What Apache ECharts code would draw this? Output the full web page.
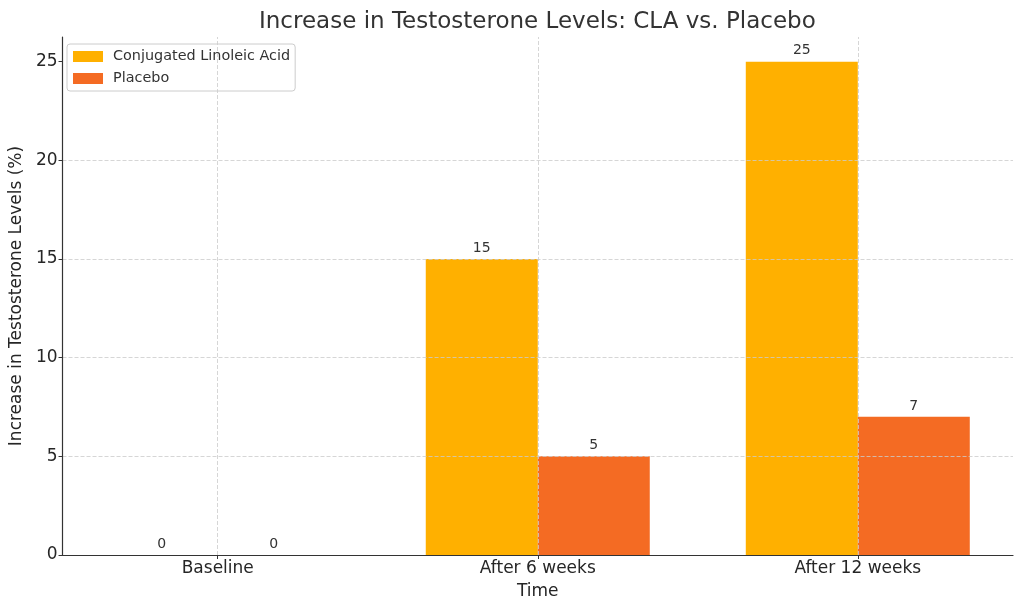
<!DOCTYPE html>
<html>
<head>
<meta charset="utf-8">
<script src="https://cdn.jsdelivr.net/npm/echarts@6/dist/echarts.min.js"></script>
<style>html,body{margin:0;padding:0;background:#fff;}#c{width:1023px;height:610px;}</style>
</head>
<body>
<div id="c"></div>
<script>
const categories = ['Baseline', 'After 6 weeks', 'After 12 weeks'];
const claValues = [0, 15, 25];
const placeboValues = [0, 5, 7];
const yTicks = [0, 5, 10, 15, 20, 25];

const FONT = 'DejaVu Sans';
const TXT = '#262626';
const chart = echarts.init(document.getElementById('c'));
const xPos = categories.map((c, i) => i);
const GRID = { color: '#cccccc', type: [4, 2], width: 0.8 };

chart.setOption({
  animation: false,
  backgroundColor: '#ffffff',
  title: {
    text: 'Increase in Testosterone Levels: CLA vs. Placebo',
    left: 254, top: 6,
    textStyle: { fontFamily: FONT, fontSize: 23, fontWeight: 'normal', color: '#333333' }
  },
  legend: {
    orient: 'vertical', left: 67, top: 44,
    itemWidth: 30, itemHeight: 11, itemGap: 7,
    padding: [5, 5, 5, 6],
    borderColor: '#cccccc', borderWidth: 1, borderRadius: 3,
    backgroundColor: '#ffffff',
    icon: 'rect',
    textStyle: { fontFamily: FONT, fontSize: 14.4, color: '#333333', lineHeight: 15, padding: [0, 0, 0, 5] },
    data: ['Conjugated Linoleic Acid', 'Placebo']
  },
  grid: { left: 58, right: 10, top: 37, bottom: 55, containLabel: false },
  xAxis: {
    type: 'value', min: -0.485, max: 2.485, z: 3,
    name: 'Time', nameLocation: 'middle', nameGap: 28,
    nameTextStyle: { fontFamily: FONT, fontSize: 17, color: TXT },
    axisLine: { show: true, onZero: false, lineStyle: { color: '#333', width: 1.2 } },
    axisTick: { show: true, length: 4, customValues: xPos, lineStyle: { color: '#333' } },
    axisLabel: {
      customValues: xPos, margin: 5,
      fontFamily: FONT, fontSize: 17, color: TXT,
      formatter: v => categories[Math.round(v)]
    },
    splitLine: { show: false }
  },
  yAxis: {
    type: 'value', min: 0, max: 26.25, z: 3,
    name: 'Increase in Testosterone Levels (%)', nameLocation: 'middle', nameGap: 35,
    nameTextStyle: { fontFamily: FONT, fontSize: 17, color: TXT },
    axisLine: { show: true, onZero: false, lineStyle: { color: '#333', width: 1.2 } },
    axisTick: { show: true, length: 4, customValues: yTicks, lineStyle: { color: '#333' } },
    axisLabel: { customValues: yTicks, margin: 5, fontFamily: FONT, fontSize: 17, color: TXT },
    splitLine: { show: true, customValues: yTicks, showMaxLine: false, showMinLine: false, lineStyle: GRID }
  },
  series: [
    {
      name: 'Conjugated Linoleic Acid', type: 'bar',
      data: claValues.map((v, i) => [i, v]),
      barWidth: 112, barGap: '0%',
      itemStyle: { color: '#FFB000' },
      label: { show: true, position: 'top', distance: 4, fontFamily: FONT, fontSize: 14, color: '#333333' }
    },
    {
      name: 'Placebo', type: 'bar',
      data: placeboValues.map((v, i) => [i, v]),
      barWidth: 112, barGap: '0%',
      itemStyle: { color: '#F46B23' },
      label: { show: true, position: 'top', distance: 4, fontFamily: FONT, fontSize: 14, color: '#333333' }
    },
    {
      name: 'vgrid', type: 'line', data: [], z: 5, silent: true,
      markLine: {
        silent: true, symbol: 'none', z: 5, animation: false,
        label: { show: false },
        lineStyle: GRID,
        data: xPos.map(x => ({ xAxis: x }))
      }
    }
  ]
});
</script>
</body>
</html>
